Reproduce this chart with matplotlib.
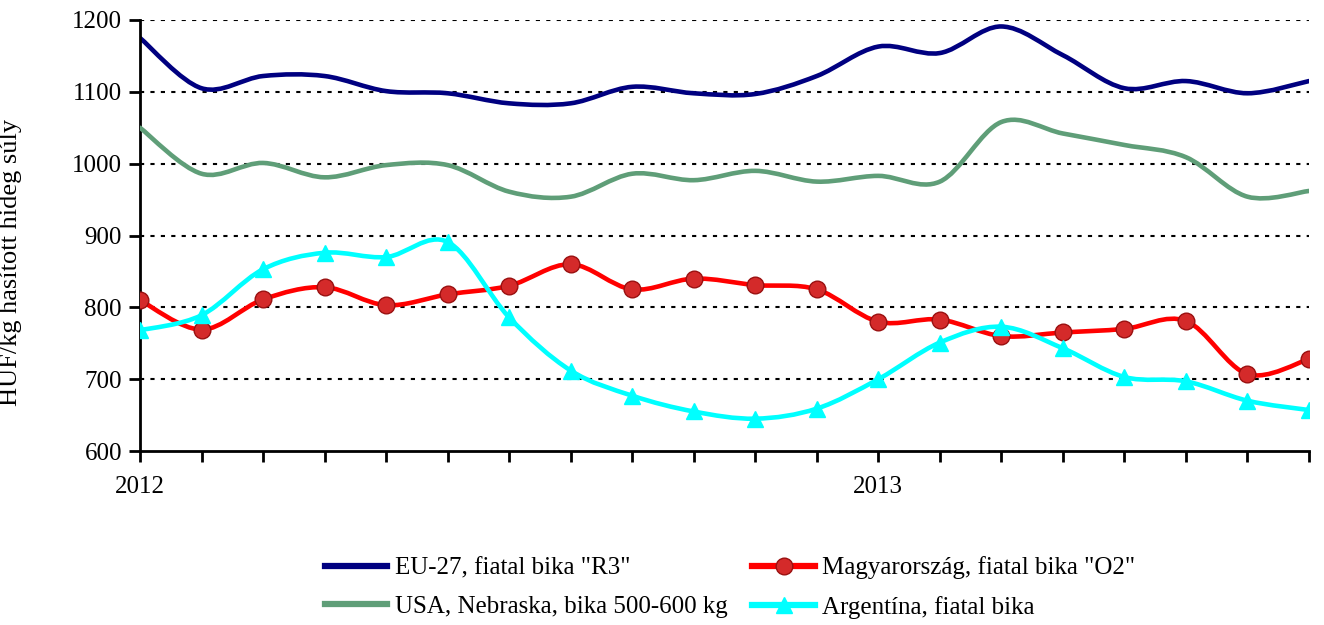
import numpy as np
import matplotlib.pyplot as plt
from matplotlib.path import Path
from matplotlib.patches import PathPatch
from matplotlib.lines import Line2D

plt.rcParams["font.family"] = ["Liberation Serif", "DejaVu Serif"]

months = list(range(20))  # 2012 Jan .. 2013 Aug
tick_labels = {0: "2012", 12: "2013"}

eu27 = [1175, 1105, 1122, 1122, 1101, 1098, 1084, 1084, 1107, 1098,
        1097, 1122, 1163, 1154, 1191, 1151, 1105, 1115, 1098, 1115]
usa = [1050, 986, 1001, 981, 998, 998, 961, 954, 986, 977,
       990, 975, 983, 975, 1058, 1042, 1026, 1009, 954, 962]
hungary = [810, 769, 811, 828, 803, 818, 830, 860, 825, 840,
           831, 825, 780, 783, 760, 765, 770, 781, 707, 728]
argentina = [768, 789, 853, 876, 870, 891, 786, 712, 677, 655,
             645, 659, 700, 751, 773, 743, 703, 697, 670, 657]


def smooth_path(xs, ys):
    # Excel-style smoothed line: Catmull-Rom converted to cubic Bezier
    pts = np.column_stack([xs, ys]).astype(float)
    verts = [pts[0]]
    codes = [Path.MOVETO]
    n = len(pts)
    for i in range(n - 1):
        p0 = pts[i - 1] if i > 0 else pts[i]
        p1 = pts[i]
        p2 = pts[i + 1]
        p3 = pts[i + 2] if i + 2 < n else pts[i + 1]
        c1 = p1 + (p2 - p0) / 6.0
        c2 = p2 - (p3 - p1) / 6.0
        verts += [c1, c2, p2]
        codes += [Path.CURVE4] * 3
    return Path(verts, codes)


def draw_series(ax, ys, color, lw, marker=None, ms=0, mfc=None, mec=None, z=2):
    ax.add_patch(PathPatch(smooth_path(months, ys), fill=False,
                           edgecolor=color, lw=lw, zorder=z,
                           capstyle="round", joinstyle="round"))
    if marker:
        ax.plot(months, ys, linestyle="none", marker=marker, ms=ms,
                mfc=mfc or color, mec=mec or color, zorder=z + 0.5)


fig = plt.figure(figsize=(13.24, 6.25), dpi=100)
ax = fig.add_axes([140 / 1324, 1 - 451 / 625, 1169 / 1324, 431 / 625])

draw_series(ax, eu27, "#000080", 3.3, z=2)
draw_series(ax, usa, "#5f9e78", 3.3, z=3)
draw_series(ax, hungary, "#ff0000", 3.3, marker="o", ms=12,
            mfc="#d42a2a", mec="#9a1010", z=4)
draw_series(ax, argentina, "#00ffff", 3.3, marker="^", ms=12, z=6)

ax.set_xlim(0, 19)
ax.set_ylim(600, 1200)
ax.set_yticks(range(600, 1201, 100))
ax.set_xticks(months)
ax.set_xticklabels([tick_labels.get(m, "") for m in months])

for v in range(700, 1201, 100):
    ax.axhline(v, color="black", lw=1.5, linestyle=(0, (2, 3)), zorder=1)

for side in ("top", "right"):
    ax.spines[side].set_visible(False)
for side in ("left", "bottom"):
    ax.spines[side].set_linewidth(2)
ax.tick_params(axis="both", direction="out", length=8, width=2,
               labelsize=18)
ax.tick_params(axis="x", pad=10)
ax.tick_params(axis="y", pad=5)

ax.set_ylabel("HUF/kg hasított hideg súly", fontsize=19)
ax.yaxis.set_label_coords(-0.101, (451 - 262) / 431)

handles = [
    Line2D([], [], color="#000080", lw=4.5),
    Line2D([], [], color="#5f9e78", lw=4.5),
    Line2D([], [], color="#ff0000", lw=4.5, marker="o", ms=12,
           mfc="#d42a2a", mec="#9a1010"),
    Line2D([], [], color="#00ffff", lw=4.5, marker="^", ms=12),
]
labels = ['EU-27, fiatal bika "R3"', "USA, Nebraska, bika 500-600 kg",
          'Magyarország, fiatal bika "O2"', "Argentína, fiatal bika"]
fig.legend(handles, labels, loc="center", bbox_to_anchor=(730 / 1324, 0.06),
           ncol=2, frameon=False, fontsize=18, handlelength=2.5,
           handletextpad=0.3, columnspacing=1.0, labelspacing=0.65,
           borderpad=0)

fig.savefig("out.png", dpi=100)
